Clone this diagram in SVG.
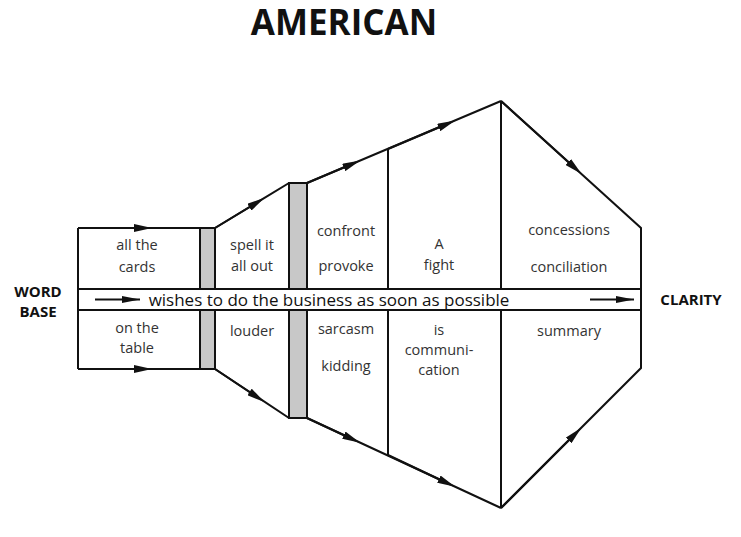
<svg xmlns="http://www.w3.org/2000/svg" width="741" height="537" viewBox="0 0 741 537">
<style>
.l{stroke:#111;stroke-width:2;fill:none}
.g{fill:#c8c8c8;stroke:#111;stroke-width:2}
.t{font-family:"Open Sans","Noto Sans",sans-serif;font-size:14.5px;fill:#333;text-anchor:middle}
.b{font-family:"Open Sans","Noto Sans",sans-serif;font-size:15px;font-weight:bold;fill:#111;text-anchor:middle}
</style>
<defs>
<marker id="a" viewBox="0 0 18 8" refX="9" refY="4" markerWidth="18" markerHeight="8" markerUnits="userSpaceOnUse" orient="auto"><path d="M0,0L18,4L0,8z" fill="#111"/></marker>
<marker id="e" viewBox="0 0 18 7" refX="18" refY="3.5" markerWidth="18" markerHeight="7" markerUnits="userSpaceOnUse" orient="auto"><path d="M0,0L18,3.5L0,7z" fill="#111"/></marker>
</defs>
<rect width="741" height="537" fill="#fff"/>
<text x="344" y="35" font-family="Open Sans, sans-serif" font-weight="bold" font-size="35" text-anchor="middle" fill="#111">AMERICAN</text>
<g id="band"><rect x="78" y="289" width="563" height="21" fill="#fff" stroke="#111" stroke-width="2"/>
<text x="329" y="305.5" font-family="Open Sans, sans-serif" font-size="17" text-anchor="middle" fill="#111">wishes to do the business as soon as possible</text></g>
<g id="connectors">
<path class="l" d="M78,228H200M78,369H200M78,228V289M78,310V369"/>
<path class="l" d="M215,228L289,183M215,369L289,418"/>
<path class="l" d="M307,183L501,101M307,418L501,508"/>
<path class="l" d="M388,149V289M388,310V455M501,101V289M501,310V508"/>
<path class="l" d="M501,101L641,228V289M641,310V368L501,508"/>
<path class="l" d="M78,228L143,228" marker-end="url(#a)"/>
<path class="l" d="M78,369L143,369" marker-end="url(#a)"/>
<path class="l" d="M215,228L257,202.5" marker-end="url(#a)"/>
<path class="l" d="M215,369L257,397" marker-end="url(#a)"/>
<path class="l" d="M307,183L352,164" marker-end="url(#a)"/>
<path class="l" d="M307,418L352,439" marker-end="url(#a)"/>
<path class="l" d="M388,149L447,124" marker-end="url(#a)"/>
<path class="l" d="M388,455L447,483" marker-end="url(#a)"/>
<path class="l" d="M501,101L575,168" marker-end="url(#a)"/>
<path class="l" d="M501,508L575,434" marker-end="url(#a)"/>
<path class="l" d="M95,299.5H140" marker-end="url(#e)"/>
<path class="l" d="M590,299.5H634" marker-end="url(#e)"/>
</g>
<g id="bar1"><rect class="g" x="200" y="228" width="15" height="61"/><rect class="g" x="200" y="310" width="15" height="59"/></g>
<g id="bar2"><rect class="g" x="289" y="183" width="18" height="106"/><rect class="g" x="289" y="310" width="18" height="108"/></g>
<g id="wordbase"><text class="b" x="38" y="297">WORD</text><text class="b" x="38" y="317">BASE</text></g>
<g id="clarity"><text class="b" x="691" y="305">CLARITY</text></g>
<g id="c1"><text class="t" x="137" y="250">all the</text><text class="t" x="137" y="272">cards</text><text class="t" x="137" y="333">on the</text><text class="t" x="137" y="353">table</text></g>
<g id="c2"><text class="t" x="252" y="250">spell it</text><text class="t" x="252" y="271">all out</text><text class="t" x="252" y="336">louder</text></g>
<g id="c3"><text class="t" x="346" y="236">confront</text><text class="t" x="346" y="271">provoke</text><text class="t" x="346" y="334">sarcasm</text><text class="t" x="346" y="371">kidding</text></g>
<g id="c4"><text class="t" x="439" y="249">A</text><text class="t" x="439" y="270">fight</text><text class="t" x="439" y="335">is</text><text class="t" x="439" y="355">communi-</text><text class="t" x="439" y="375">cation</text></g>
<g id="c5"><text class="t" x="569" y="235">concessions</text><text class="t" x="569" y="272">conciliation</text><text class="t" x="569" y="336">summary</text></g>
</svg>
